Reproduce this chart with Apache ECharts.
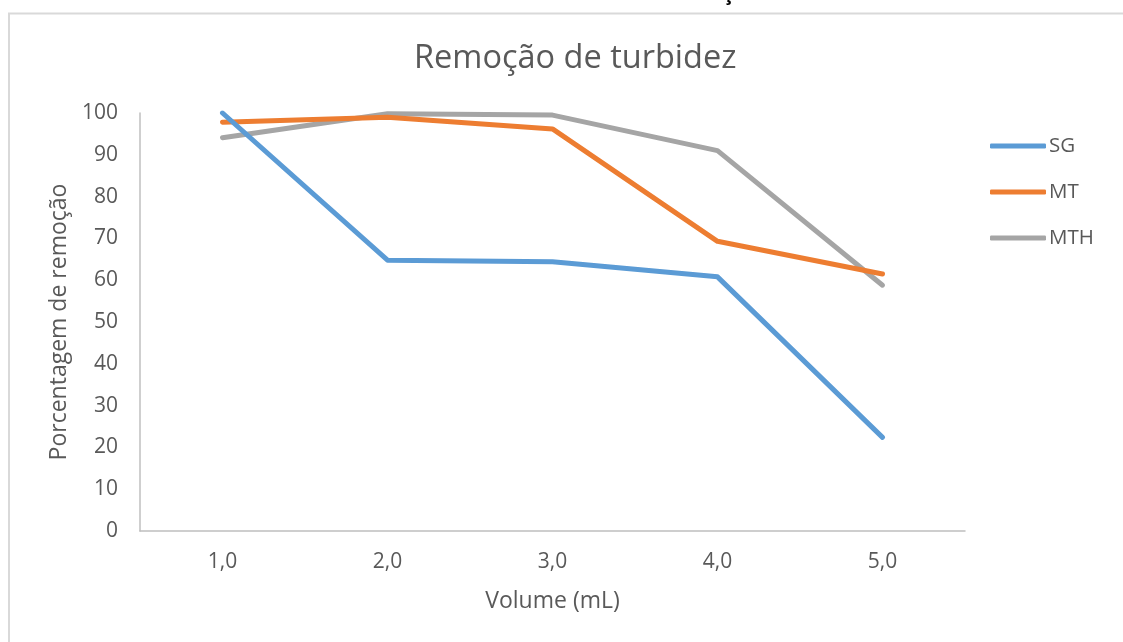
<!DOCTYPE html>
<html>
<head>
<meta charset="utf-8">
<script src="https://cdn.jsdelivr.net/npm/echarts@6/dist/echarts.min.js"></script>
<style>
  html, body { margin: 0; padding: 0; background: #ffffff; }
  #chart { width: 1123px; height: 642px; }
</style>
</head>
<body>
<div id="chart"></div>
<script>
// Volumes (mL) on the category axis
const volumes = ['1,0', '2,0', '3,0', '4,0', '5,0'];

// Percentage of turbidity removed per coagulant
const sgValues = [100, 64.8, 64.4, 60.8, 22.4];
const mtValues = [97.8, 99.0, 96.2, 69.3, 61.5];
const mthValues = [94.1, 99.8, 99.5, 91.0, 58.8];

const seriesNames = ['SG', 'MT', 'MTH'];
const seriesColors = ['#5B9BD5', '#ED7D31', '#A5A5A5'];
const seriesValues = [sgValues, mtValues, mthValues];

const FONT = '"Open Sans", sans-serif';
const TEXT_COLOR = '#595959';

const chart = echarts.init(document.getElementById('chart'), null, { renderer: 'canvas' });

chart.setOption({
  animation: false,
  backgroundColor: '#ffffff',
  title: {
    text: 'Remoção de turbidez',
    left: 409,
    top: 37,
    textStyle: { fontFamily: FONT, fontSize: 32.5, fontWeight: 'normal', color: TEXT_COLOR }
  },
  legend: {
    orient: 'vertical',
    left: 985,
    top: 130,
    itemWidth: 56,
    itemHeight: 5,
    itemGap: 24,
    icon: 'roundRect',
    textStyle: { fontFamily: FONT, fontSize: 20.5, color: TEXT_COLOR, lineHeight: 22, padding: [0, 0, 0, -2] },
    data: seriesNames
  },
  grid: { left: 140, right: 158, top: 113, bottom: 111, containLabel: false },
  xAxis: {
    type: 'category',
    data: volumes,
    boundaryGap: true,
    name: 'Volume (mL)',
    nameLocation: 'middle',
    nameGap: 59,
    nameTextStyle: { fontFamily: FONT, fontSize: 23, color: TEXT_COLOR },
    axisLine: { lineStyle: { color: '#BFBFBF', width: 1.5 } },
    axisTick: { show: false },
    axisLabel: { fontFamily: FONT, fontSize: 21, color: TEXT_COLOR, margin: 21 },
    splitLine: { show: false }
  },
  yAxis: {
    type: 'value',
    min: 0,
    max: 100,
    interval: 10,
    name: 'Porcentagem de remoção',
    nameLocation: 'middle',
    nameGap: 66,
    nameTextStyle: { fontFamily: FONT, fontSize: 23, color: TEXT_COLOR },
    axisLine: { show: true, lineStyle: { color: '#BFBFBF', width: 1.5 } },
    axisTick: { show: false },
    axisLabel: { fontFamily: FONT, fontSize: 21, color: TEXT_COLOR, margin: 22 },
    splitLine: { show: false }
  },
  series: seriesNames.map((name, i) => ({
    name: name,
    type: 'line',
    data: seriesValues[i],
    symbol: 'none',
    color: seriesColors[i],
    lineStyle: { width: 5, color: seriesColors[i], cap: 'round', join: 'round' },
    z: 2 + (i === 0 ? 2 : i === 1 ? 1 : 0)
  })),
  graphic: [
    {
      type: 'rect',
      silent: true,
      shape: { x: 9, y: 13.5, width: 1200, height: 700 },
      style: { fill: 'none', stroke: '#D9D9D9', lineWidth: 2 }
    },
    {
      // tail of a caption line running above the chart frame
      type: 'text',
      silent: true,
      z: 10,
      style: {
        text: 'ç',
        x: 728,
        y: -6,
        textAlign: 'center',
        textVerticalAlign: 'middle',
        font: 'bold 20px ' + FONT,
        fill: '#000000'
      }
    }
  ]
});
</script>
</body>
</html>
